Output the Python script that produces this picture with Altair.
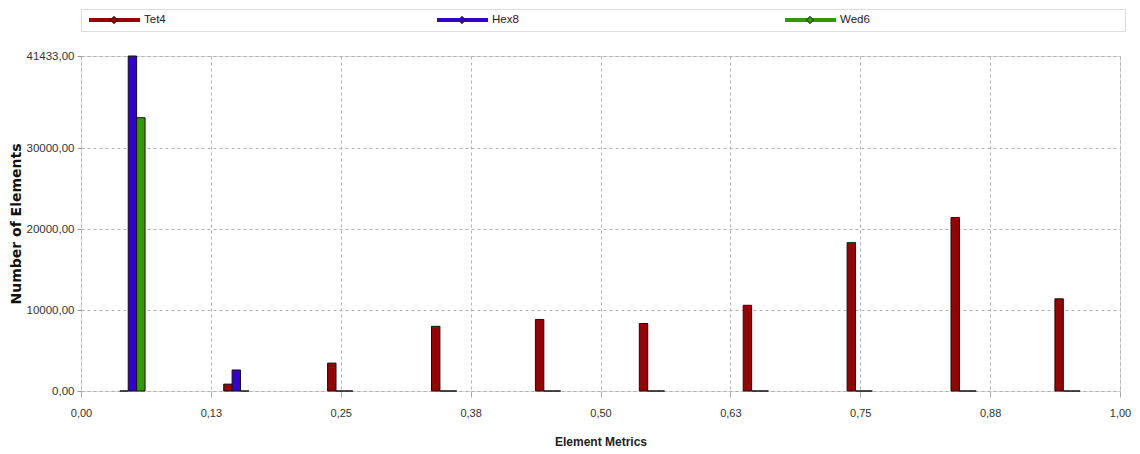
import altair as alt
import pandas as pd

# ---- data ----
series = ["Tet4", "Hex8", "Wed6"]
colors = ["#990000", "#3300cc", "#339900"]
bin_centers = [0.05, 0.15, 0.25, 0.35, 0.45, 0.55, 0.65, 0.75, 0.85, 0.95]
tet4 = [0, 850, 3450, 8000, 8850, 8350, 10600, 18350, 21450, 11400]
hex8 = [41433, 2600, 0, 0, 0, 0, 0, 0, 0, 0]
wed6 = [33800, 0, 0, 0, 0, 0, 0, 0, 0, 0]
y_ticks = [0, 10000, 20000, 30000, 41433]
x_ticks = [0, 0.125, 0.25, 0.375, 0.5, 0.625, 0.75, 0.875, 1.0]

values = {"Tet4": tet4, "Hex8": hex8, "Wed6": wed6}
rows = []
for k, s in enumerate(series):
    for c, v in zip(bin_centers, values[s]):
        rows.append({"series": s, "k": k, "center": c, "count": v})
df = pd.DataFrame(rows)
leg_df = pd.DataFrame({"series": series, "idx": list(range(len(series)))})

SANS = "Liberation Sans, Arial, sans-serif"
color_scale = alt.Scale(domain=series, range=colors)
comma2 = "replace(format(datum.value, '.2f'), '.', ',')"

# ---- legend strip ----
lx = alt.X("idx:Q", scale=alt.Scale(domain=[0, 3], nice=False, zero=False), axis=None)
leg_rule = alt.Chart(leg_df).mark_rule(strokeWidth=4, xOffset=8, x2Offset=59).encode(
    x=lx, x2=alt.X2("idx"), y=alt.value(11),
    color=alt.Color("series:N", scale=color_scale, legend=None),
)
leg_pt = alt.Chart(leg_df).mark_point(shape="diamond", filled=True, size=55, xOffset=33,
                                      stroke="#222", strokeWidth=1, opacity=1).encode(
    x=lx, y=alt.value(11),
    fill=alt.Fill("series:N", scale=color_scale, legend=None),
)
leg_txt = alt.Chart(leg_df).mark_text(align="left", baseline="middle", xOffset=63,
                                      font=SANS, fontSize=11.5, color="#222").encode(
    x=lx, y=alt.value(11), text="series:N",
)
legend = alt.layer(leg_rule, leg_pt, leg_txt).properties(width=1044, height=22)

# ---- main bars ----
bars = alt.Chart(df).transform_calculate(
    x0="datum.center + (datum.k - 1.5) * 0.0081 - 0.0005",
    x1="datum.center + (datum.k - 0.5) * 0.0081 - 0.0005",
).mark_bar(stroke="#111", strokeWidth=1).encode(
    x=alt.X("x0:Q", scale=alt.Scale(domain=[0, 1], nice=False, zero=False),
            axis=alt.Axis(values=x_ticks, labelExpr=comma2, title="Element Metrics",
                          grid=True, gridDash=[3, 3], gridColor="#b0b0b0",
                          tickColor="#aaa", tickSize=6, labelFlush=False,
                          labelPadding=10, labelFont=SANS, labelFontSize=11,
                          labelColor="#333", titleFont=SANS, titleFontSize=12,
                          titleFontWeight="bold", titleColor="#222", titlePadding=18,
                          domain=False)),
    x2="x1:Q",
    y=alt.Y("count:Q", scale=alt.Scale(domain=[0, 41433], nice=False),
            axis=alt.Axis(values=y_ticks, labelExpr=comma2, title="Number of Elements",
                          grid=True, gridDash=[3, 3], gridColor="#b0b0b0",
                          tickColor="#999", tickSize=4, labelPadding=3,
                          labelFont=SANS, labelFontSize=11.5, labelColor="#333",
                          titleFont="DejaVu Sans", titleFontSize=14,
                          titleFontWeight="bold", titleColor="#111", titlePadding=3,
                          domain=False)),
    y2=alt.datum(0),
    fill=alt.Fill("series:N", scale=color_scale, legend=None),
).properties(width=1039, height=335)

chart = alt.vconcat(legend, bars, spacing=25, bounds="flush").properties(
    padding={"left": 0, "top": 0, "right": 0, "bottom": 0}
).configure_view(stroke="#555", strokeWidth=1.5).configure(background="white")

chart.save("out.html", embed_options={"renderer": "svg", "actions": False})
